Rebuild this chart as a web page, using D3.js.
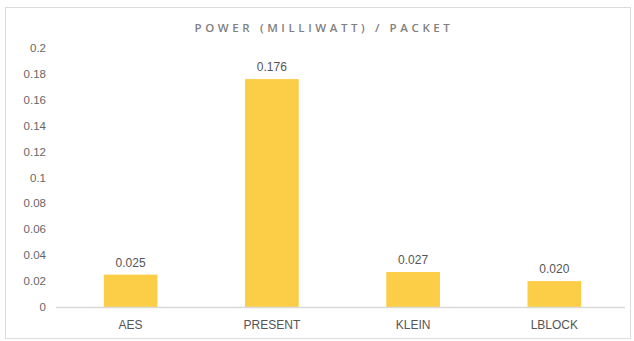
<!DOCTYPE html>
<html>
<head>
<meta charset="utf-8">
<script src="https://cdn.jsdelivr.net/npm/d3@7"></script>
<style>
  html, body { margin: 0; padding: 0; background: #fff; }
</style>
</head>
<body>
<div id="chart"></div>
<script>
const categories = ["AES", "PRESENT", "KLEIN", "LBLOCK"];
const values = [0.025, 0.176, 0.027, 0.020];
const valueLabels = ["0.025", "0.176", "0.027", "0.020"];
const yTicks = [0, 0.02, 0.04, 0.06, 0.08, 0.1, 0.12, 0.14, 0.16, 0.18, 0.2];
const title = "POWER (MILLIWATT) / PACKET";

const width = 634, height = 341;

const svg = d3.select("#chart")
  .append("svg")
  .attr("width", width)
  .attr("height", height);

// outer frame
svg.append("rect")
  .attr("x", 5.5)
  .attr("y", 7.5)
  .attr("width", 625)
  .attr("height", 331)
  .style("fill", "#fff")
  .style("stroke", "#dcdcdc")
  .style("stroke-width", 1);

svg.append("text")
  .attr("x", 324)
  .attr("y", 32)
  .attr("text-anchor", "middle")
  .style("font-family", "'Open Sans', sans-serif")
  .style("font-size", "11.5px")
  .style("font-weight", "600")
  .style("letter-spacing", "3.6px")
  .style("fill", "#808080")
  .text(title);

let x = d3.scaleBand()
  .range([60, 625])
  .domain(categories)
  .paddingInner(0.62)
  .paddingOuter(0.31);

let y = d3.scaleLinear()
  .range([307, 48])
  .domain([0, 0.2]);

// y tick labels
svg.append("g")
  .selectAll("text")
  .data(yTicks)
  .enter()
  .append("text")
  .attr("x", 46)
  .attr("y", d => y(d))
  .attr("dy", "0.35em")
  .attr("text-anchor", "end")
  .style("font-family", "'Liberation Sans', Arial, sans-serif")
  .style("font-size", "11.5px")
  .style("fill", "#666")
  .text(d => d3.format("~g")(d));

// bars
svg.append("g")
  .selectAll("rect")
  .data(values)
  .enter()
  .append("rect")
  .attr("x", (d, i) => x(categories[i]))
  .attr("y", d => y(d))
  .attr("width", x.bandwidth())
  .attr("height", d => y(0) - y(d))
  .style("fill", "#fccd46");

// baseline
svg.append("line")
  .attr("x1", 56)
  .attr("x2", 625)
  .attr("y1", y(0) + 0.5)
  .attr("y2", y(0) + 0.5)
  .style("stroke", "#d9d9d9")
  .style("stroke-width", 1.5);

// value labels
svg.append("g")
  .selectAll("text")
  .data(values)
  .enter()
  .append("text")
  .attr("x", (d, i) => x(categories[i]) + x.bandwidth() / 2)
  .attr("y", d => y(d) - 8)
  .attr("text-anchor", "middle")
  .style("font-family", "'Liberation Sans', Arial, sans-serif")
  .style("font-size", "12px")
  .style("fill", "#555")
  .text((d, i) => valueLabels[i]);

// category labels
svg.append("g")
  .selectAll("text")
  .data(categories)
  .enter()
  .append("text")
  .attr("x", d => x(d) + x.bandwidth() / 2)
  .attr("y", 329)
  .attr("text-anchor", "middle")
  .style("font-family", "'Liberation Sans', Arial, sans-serif")
  .style("font-size", "12px")
  .style("fill", "#555")
  .text(d => d);
</script>
</body>
</html>
